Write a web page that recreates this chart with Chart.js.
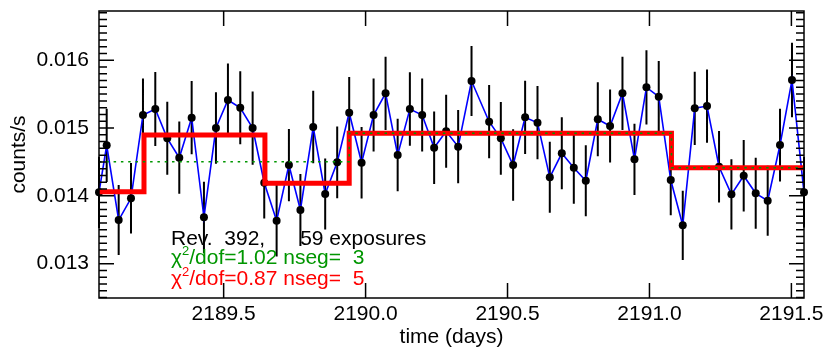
<!DOCTYPE html>
<html><head><meta charset="utf-8">
<script src="https://cdn.jsdelivr.net/npm/chart.js@4/dist/chart.umd.min.js"></script>
<style>html,body{margin:0;padding:0;background:#fff;}canvas{display:block;}</style>
</head><body>
<canvas id="c" width="830" height="356"></canvas>
<script>
// ---- data ----
const times = [
 2189.0609, 2189.0880, 2189.1302, 2189.1736, 2189.2158, 2189.2592, 2189.3014, 2189.3437, 2189.3873, 2189.4306,
 2189.4729, 2189.5151, 2189.5585, 2189.6021, 2189.6430, 2189.6866, 2189.7299, 2189.7704, 2189.8155, 2189.8577,
 2189.9000, 2189.9423, 2189.9859, 2190.0282, 2190.0704, 2190.1130, 2190.1560, 2190.1993, 2190.2415, 2190.2838,
 2190.3261, 2190.3732, 2190.4352, 2190.4764, 2190.5197, 2190.5620, 2190.6056, 2190.6489, 2190.6912, 2190.7335,
 2190.7757, 2190.8180, 2190.8613, 2190.9049, 2190.9472, 2190.9894, 2191.0327, 2191.0750, 2191.1173, 2191.1595,
 2191.2028, 2191.2451, 2191.2887, 2191.3320, 2191.3743, 2191.4165, 2191.4599, 2191.5021, 2191.5444];
const rates = [
 0.014052, 0.014745, 0.013643, 0.013963, 0.015192, 0.015280, 0.014848, 0.014562, 0.015152, 0.013683,
 0.015000, 0.015413, 0.015299, 0.015000, 0.014193, 0.013633, 0.014454, 0.013791, 0.015015, 0.014027,
 0.014494, 0.015226, 0.014488, 0.015192, 0.015512, 0.014602, 0.015280, 0.015192, 0.014709, 0.014951,
 0.014724, 0.015693, 0.015093, 0.014848, 0.014454, 0.015158, 0.015078, 0.014273, 0.014627, 0.014414,
 0.014223, 0.015128, 0.015029, 0.015512, 0.014538, 0.015600, 0.015462, 0.014233, 0.013565, 0.015291,
 0.015324, 0.014429, 0.014022, 0.014296, 0.014037, 0.013928, 0.014749, 0.015708, 0.014052];
const errors = [
 0.000525, 0.000540, 0.000516, 0.000520, 0.000540, 0.000546, 0.000538, 0.000533, 0.000540, 0.000525,
 0.000528, 0.000540, 0.000540, 0.000540, 0.000528, 0.000528, 0.000533, 0.000530, 0.000536, 0.000524,
 0.000528, 0.000528, 0.000528, 0.000540, 0.000540, 0.000535, 0.000543, 0.000540, 0.000533, 0.000538,
 0.000540, 0.000516, 0.000540, 0.000536, 0.000528, 0.000540, 0.000540, 0.000524, 0.000531, 0.000531,
 0.000524, 0.000546, 0.000538, 0.000540, 0.000524, 0.000548, 0.000528, 0.000521, 0.000511, 0.000540,
 0.000540, 0.000528, 0.000519, 0.000528, 0.000524, 0.000516, 0.000536, 0.000548, 0.000520];
const seg5Edges  = [2189.0609, 2189.2194, 2189.6454, 2189.9423, 2191.0775, 2191.5444];
const seg5Levels = [0.014061, 0.014897, 0.014184, 0.014922, 0.014414];
const seg3Edges  = [2189.0609, 2189.9423, 2191.0775, 2191.5444];
const seg3Levels = [0.014503, 0.014922, 0.014414];
const xTickValues = [2189.5, 2190.0, 2190.5, 2191.0, 2191.5];
const yTickValues = [0.013, 0.014, 0.015, 0.016];
const yMinorStep = 0.0001;
const xRange = [2189.0609, 2191.5444];
const yRange = [0.012493, 0.016726];
const xTitle = 'time (days)';
const yTitle = 'counts/s';
const infoLine = 'Rev.  392,      59 exposures';
const fitLines = [
  {chi: '\u03C7', sup: '2', text: '/dof=1.02 nseg=  3', color: 'rgb(0,150,0)'},
  {chi: '\u03C7', sup: '2', text: '/dof=0.87 nseg=  5', color: '#ff0000'}
];

const FONT = "'Liberation Sans', Arial, Helvetica, sans-serif";
const GREEN = 'rgb(0,150,0)';

// step outline: each level spans from its left edge to the next edge
function stepPoints(edges, levels) {
  const pts = [];
  levels.forEach((lv, i) => {
    pts.push({x: edges[i], y: lv});
    pts.push({x: edges[i + 1], y: lv});
  });
  return pts;
}

const errorBars = {
  id: 'errorBars',
  beforeDatasetsDraw(chart) {
    const {ctx, scales: {x, y}} = chart;
    ctx.save();
    ctx.strokeStyle = '#000';
    ctx.lineWidth = 2;
    ctx.beginPath();
    times.forEach((t, i) => {
      const px = x.getPixelForValue(t);
      ctx.moveTo(px, y.getPixelForValue(rates[i] - errors[i]));
      ctx.lineTo(px, y.getPixelForValue(rates[i] + errors[i]));
    });
    ctx.stroke();
    ctx.restore();
  }
};

const frameAndText = {
  id: 'frameAndText',
  afterDraw(chart) {
    const {ctx, chartArea: a, scales: {x, y}} = chart;
    ctx.save();
    ctx.strokeStyle = '#000';
    ctx.lineWidth = 1.5;
    ctx.strokeRect(a.left, a.top, a.right - a.left, a.bottom - a.top);
    ctx.beginPath();
    xTickValues.forEach(v => {
      const p = x.getPixelForValue(v);
      ctx.moveTo(p, a.bottom); ctx.lineTo(p, a.bottom - 15);
      ctx.moveTo(p, a.top); ctx.lineTo(p, a.top + 15);
    });
    const n0 = Math.ceil(yRange[0] / yMinorStep - 1e-6);
    const n1 = Math.floor(yRange[1] / yMinorStep + 1e-6);
    for (let n = n0; n <= n1; n++) {
      const p = y.getPixelForValue(n * yMinorStep);
      const len = (n % 10 === 0) ? 15 : 8;
      ctx.moveTo(a.left, p); ctx.lineTo(a.left + len, p);
      ctx.moveTo(a.right, p); ctx.lineTo(a.right - len, p);
    }
    ctx.stroke();

    // axis titles
    ctx.fillStyle = '#000';
    ctx.font = '21px ' + FONT;
    ctx.textAlign = 'center';
    ctx.textBaseline = 'alphabetic';
    ctx.fillText(xTitle, (a.left + a.right) / 2, 343);
    ctx.save();
    ctx.translate(25, (a.top + a.bottom) / 2);
    ctx.rotate(-Math.PI / 2);
    ctx.fillText(yTitle, 0, 0);
    ctx.restore();

    // annotation text
    const tx = a.left + 72;
    ctx.textAlign = 'left';
    ctx.fillText(infoLine, tx, a.top + 234);
    const bases = [a.top + 253, a.top + 274];
    fitLines.forEach((ln, i) => {
      ctx.fillStyle = ln.color;
      ctx.font = '21px ' + FONT;
      let cx = tx;
      ctx.fillText(ln.chi, cx, bases[i]);
      cx += ctx.measureText(ln.chi).width;
      ctx.font = '13px ' + FONT;
      ctx.fillText(ln.sup, cx, bases[i] - 9);
      cx += ctx.measureText(ln.sup).width;
      ctx.font = '21px ' + FONT;
      ctx.fillText(ln.text, cx, bases[i]);
    });
    ctx.restore();
  }
};

new Chart(document.getElementById('c'), {
  type: 'scatter',
  data: {
    datasets: [
      {
        data: stepPoints(seg3Edges, seg3Levels),
        showLine: true,
        borderColor: GREEN, borderWidth: 1.5, borderDash: [2.5, 4.8],
        pointRadius: 0, clip: false
      },
      {
        data: stepPoints(seg5Edges, seg5Levels),
        showLine: true,
        borderColor: '#ff0000', borderWidth: 5, borderJoinStyle: 'miter', borderCapStyle: 'butt',
        pointRadius: 0, clip: false
      },
      {
        data: times.map((t, i) => ({x: t, y: rates[i]})),
        showLine: true,
        borderColor: '#0000ff', borderWidth: 1.6,
        pointRadius: 4, pointBackgroundColor: '#000', pointBorderColor: '#000', pointBorderWidth: 0,
        clip: false
      }
    ]
  },
  options: {
    responsive: false,
    devicePixelRatio: 1,
    animation: false,
    layout: {padding: {left: 0, right: 26, top: 11, bottom: 0}},
    plugins: {legend: {display: false}, tooltip: {enabled: false}},
    scales: {
      x: {
        type: 'linear', position: 'bottom',
        min: xRange[0], max: xRange[1],
        afterBuildTicks: ax => { ax.ticks = xTickValues.map(v => ({value: v})); },
        afterFit: ax => { ax.height = 58; ax.paddingLeft = 0; ax.paddingRight = 0; },
        grid: {display: false, drawTicks: false},
        border: {display: false},
        ticks: {
          autoSkip: false, maxRotation: 0, padding: 4, color: '#000',
          font: {family: FONT, size: 21},
          callback: v => Number(v).toFixed(1)
        }
      },
      y: {
        type: 'linear', position: 'left',
        min: yRange[0], max: yRange[1],
        afterBuildTicks: ax => { ax.ticks = yTickValues.map(v => ({value: v})); },
        afterFit: ax => { ax.width = 99; ax.paddingTop = 0; ax.paddingBottom = 0; },
        grid: {display: false, drawTicks: false},
        border: {display: false},
        ticks: {
          autoSkip: false, padding: 10, color: '#000',
          font: {family: FONT, size: 21},
          callback: v => Number(v).toFixed(3)
        }
      }
    }
  },
  plugins: [errorBars, frameAndText]
});
</script>
</body></html>
